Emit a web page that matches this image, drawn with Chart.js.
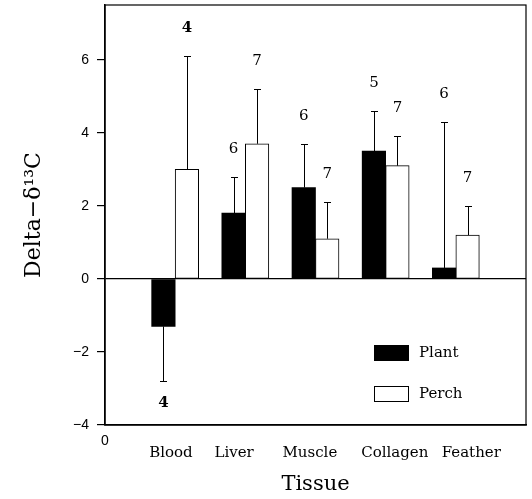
<!DOCTYPE html>
<html>
<head>
<meta charset="utf-8">
<script src="https://cdn.jsdelivr.net/npm/chart.js@4.4.1/dist/chart.umd.min.js"></script>
<style>
  html, body { margin: 0; padding: 0; background: #fff; }
  #wrap { width: 532px; height: 499px; }
</style>
</head>
<body>
<div id="wrap"><canvas id="chart"></canvas></div>
<script>
// values
const tissues = ["Blood", "Liver", "Muscle", "Collagen", "Feather"];
const plantMean = [-1.3, 1.8, 2.5, 3.5, 0.3];
const plantErr = [1.5, 1.0, 1.2, 1.1, 4.0];
const plantN = [4, 6, 6, 5, 6];
const perchMean = [3.0, 3.7, 1.1, 3.1, 1.2];
const perchErr = [3.1, 1.5, 1.0, 0.8, 0.8];
const perchN = [4, 7, 7, 7, 7];
const yTicks = [-4, -2, 0, 2, 4, 6];

// tissue names are not centred exactly under the bars in the original
const labelNudge = [-0.06, -0.16, -0.08, 0.13, 0.22];

const serif = "'DejaVu Serif', serif";
const sans = "'Liberation Sans', Arial, sans-serif";

// one-sided error bars with the sample size written past the end
const errorBars = {
  id: "errorBars",
  afterDatasetsDraw(chart) {
    const { ctx, scales: { y } } = chart;
    const sets = [[plantMean, plantErr, plantN], [perchMean, perchErr, perchN]];
    ctx.save();
    ctx.strokeStyle = "#000";
    ctx.fillStyle = "#000";
    ctx.lineWidth = 1;
    ctx.textAlign = "center";
    ctx.textBaseline = "middle";
    sets.forEach(([mean, err, n], di) => {
      chart.getDatasetMeta(di).data.forEach((bar, i) => {
        const dir = mean[i] < 0 ? -1 : 1;
        const yEnd = Math.round(y.getPixelForValue(mean[i] + dir * err[i])) + 0.5;
        const x = Math.round(bar.x) + 0.5;
        ctx.beginPath();
        ctx.moveTo(x, bar.y);
        ctx.lineTo(x, yEnd);
        ctx.moveTo(x - 3.5, yEnd);
        ctx.lineTo(x + 3.5, yEnd);
        ctx.stroke();
        ctx.font = (i === 0 ? "bold " : "") + "15px " + serif;
        ctx.fillText(String(n[i]), bar.x, dir > 0 ? yEnd - 28 : yEnd + 22);
      });
    });
    ctx.restore();
  }
};

// frame, legend inside the plot, and the lone "0" under the x axis
const extras = {
  id: "extras",
  afterDraw(chart) {
    const { ctx, chartArea: a, scales: { x } } = chart;
    ctx.save();
    ctx.strokeStyle = "#000";
    ctx.lineWidth = 1.2;
    ctx.strokeRect(a.left, a.top, a.right - a.left, a.bottom - a.top);

    chart.data.datasets.forEach((ds, i) => {
      const bx = a.right - 152, by = a.top + 340 + i * 41;
      ctx.fillStyle = ds.backgroundColor;
      ctx.fillRect(bx, by, 34, 15);
      ctx.lineWidth = 1;
      ctx.strokeRect(bx + 0.5, by + 0.5, 34, 15);
      ctx.fillStyle = "#000";
      ctx.font = "15px " + serif;
      ctx.textAlign = "left";
      ctx.textBaseline = "middle";
      ctx.fillText(ds.label, bx + 45, by + 8);
    });

    ctx.font = "14px " + sans;
    ctx.textAlign = "center";
    ctx.textBaseline = "middle";
    ctx.fillText("0", x.getPixelForValue(0), a.bottom + 16);
    ctx.restore();
  }
};

const noPad = (s) => {
  s.paddingTop = 0;
  s.paddingBottom = 0;
  s.paddingLeft = 0;
  s.paddingRight = 0;
};

new Chart(document.getElementById("chart"), {
  type: "bar",
  data: {
    datasets: [
      {
        label: "Plant",
        data: plantMean.map((v, i) => ({ x: i + 1, y: v })),
        backgroundColor: "#000",
        borderColor: "#000",
        borderWidth: 0,
      },
      {
        label: "Perch",
        data: perchMean.map((v, i) => ({ x: i + 1, y: v })),
        backgroundColor: "#fff",
        borderColor: "#000",
        borderWidth: 1,
        borderSkipped: false,
      },
    ],
  },
  options: {
    responsive: true,
    maintainAspectRatio: false,
    animation: false,
    barThickness: 23.5,
    layout: { padding: { top: 5, right: 6, left: 0, bottom: 0 } },
    scales: {
      x: {
        type: "linear",
        min: 0,
        max: 6,
        offset: false,
        afterBuildTicks: (s) => { s.ticks = tissues.map((_, i) => ({ value: i + 1 + labelNudge[i] })); },
        afterFit: (s) => { s.height = 74; noPad(s); },
        ticks: {
          padding: 11,
          color: "#000",
          font: { family: serif, size: 15 },
          callback: (v, i) => tissues[i],
        },
        grid: { display: false, offset: false },
        border: { display: true, color: "#000", width: 1.5 },
        title: {
          display: true,
          text: "Tissue",
          color: "#000",
          font: { family: serif, size: 21 },
          padding: { top: 0, bottom: 2 },
        },
      },
      y: {
        min: -4,
        max: 7.5,
        afterBuildTicks: (s) => { s.ticks = yTicks.map((v) => ({ value: v })); },
        afterFit: (s) => { s.width = 105; noPad(s); },
        ticks: {
          padding: 8,
          color: "#000",
          font: { family: sans, size: 14 },
          callback: (v) => String(v).replace("-", "\u2212"),
        },
        grid: {
          color: (c) => (c.tick && c.tick.value === 0 ? "#000" : "rgba(0,0,0,0)"),
          tickColor: "#000",
          tickLength: 8,
          lineWidth: 1.2,
        },
        border: { display: true, color: "#000", width: 1.5 },
        title: {
          display: true,
          text: "Delta\u2212\u03B4\u00B9\u00B3C",
          color: "#000",
          font: { family: serif, size: 22 },
          padding: { top: 21, bottom: 0 },
        },
      },
    },
    plugins: {
      legend: { display: false },
      tooltip: { enabled: false },
    },
  },
  plugins: [errorBars, extras],
});
</script>
</body>
</html>
